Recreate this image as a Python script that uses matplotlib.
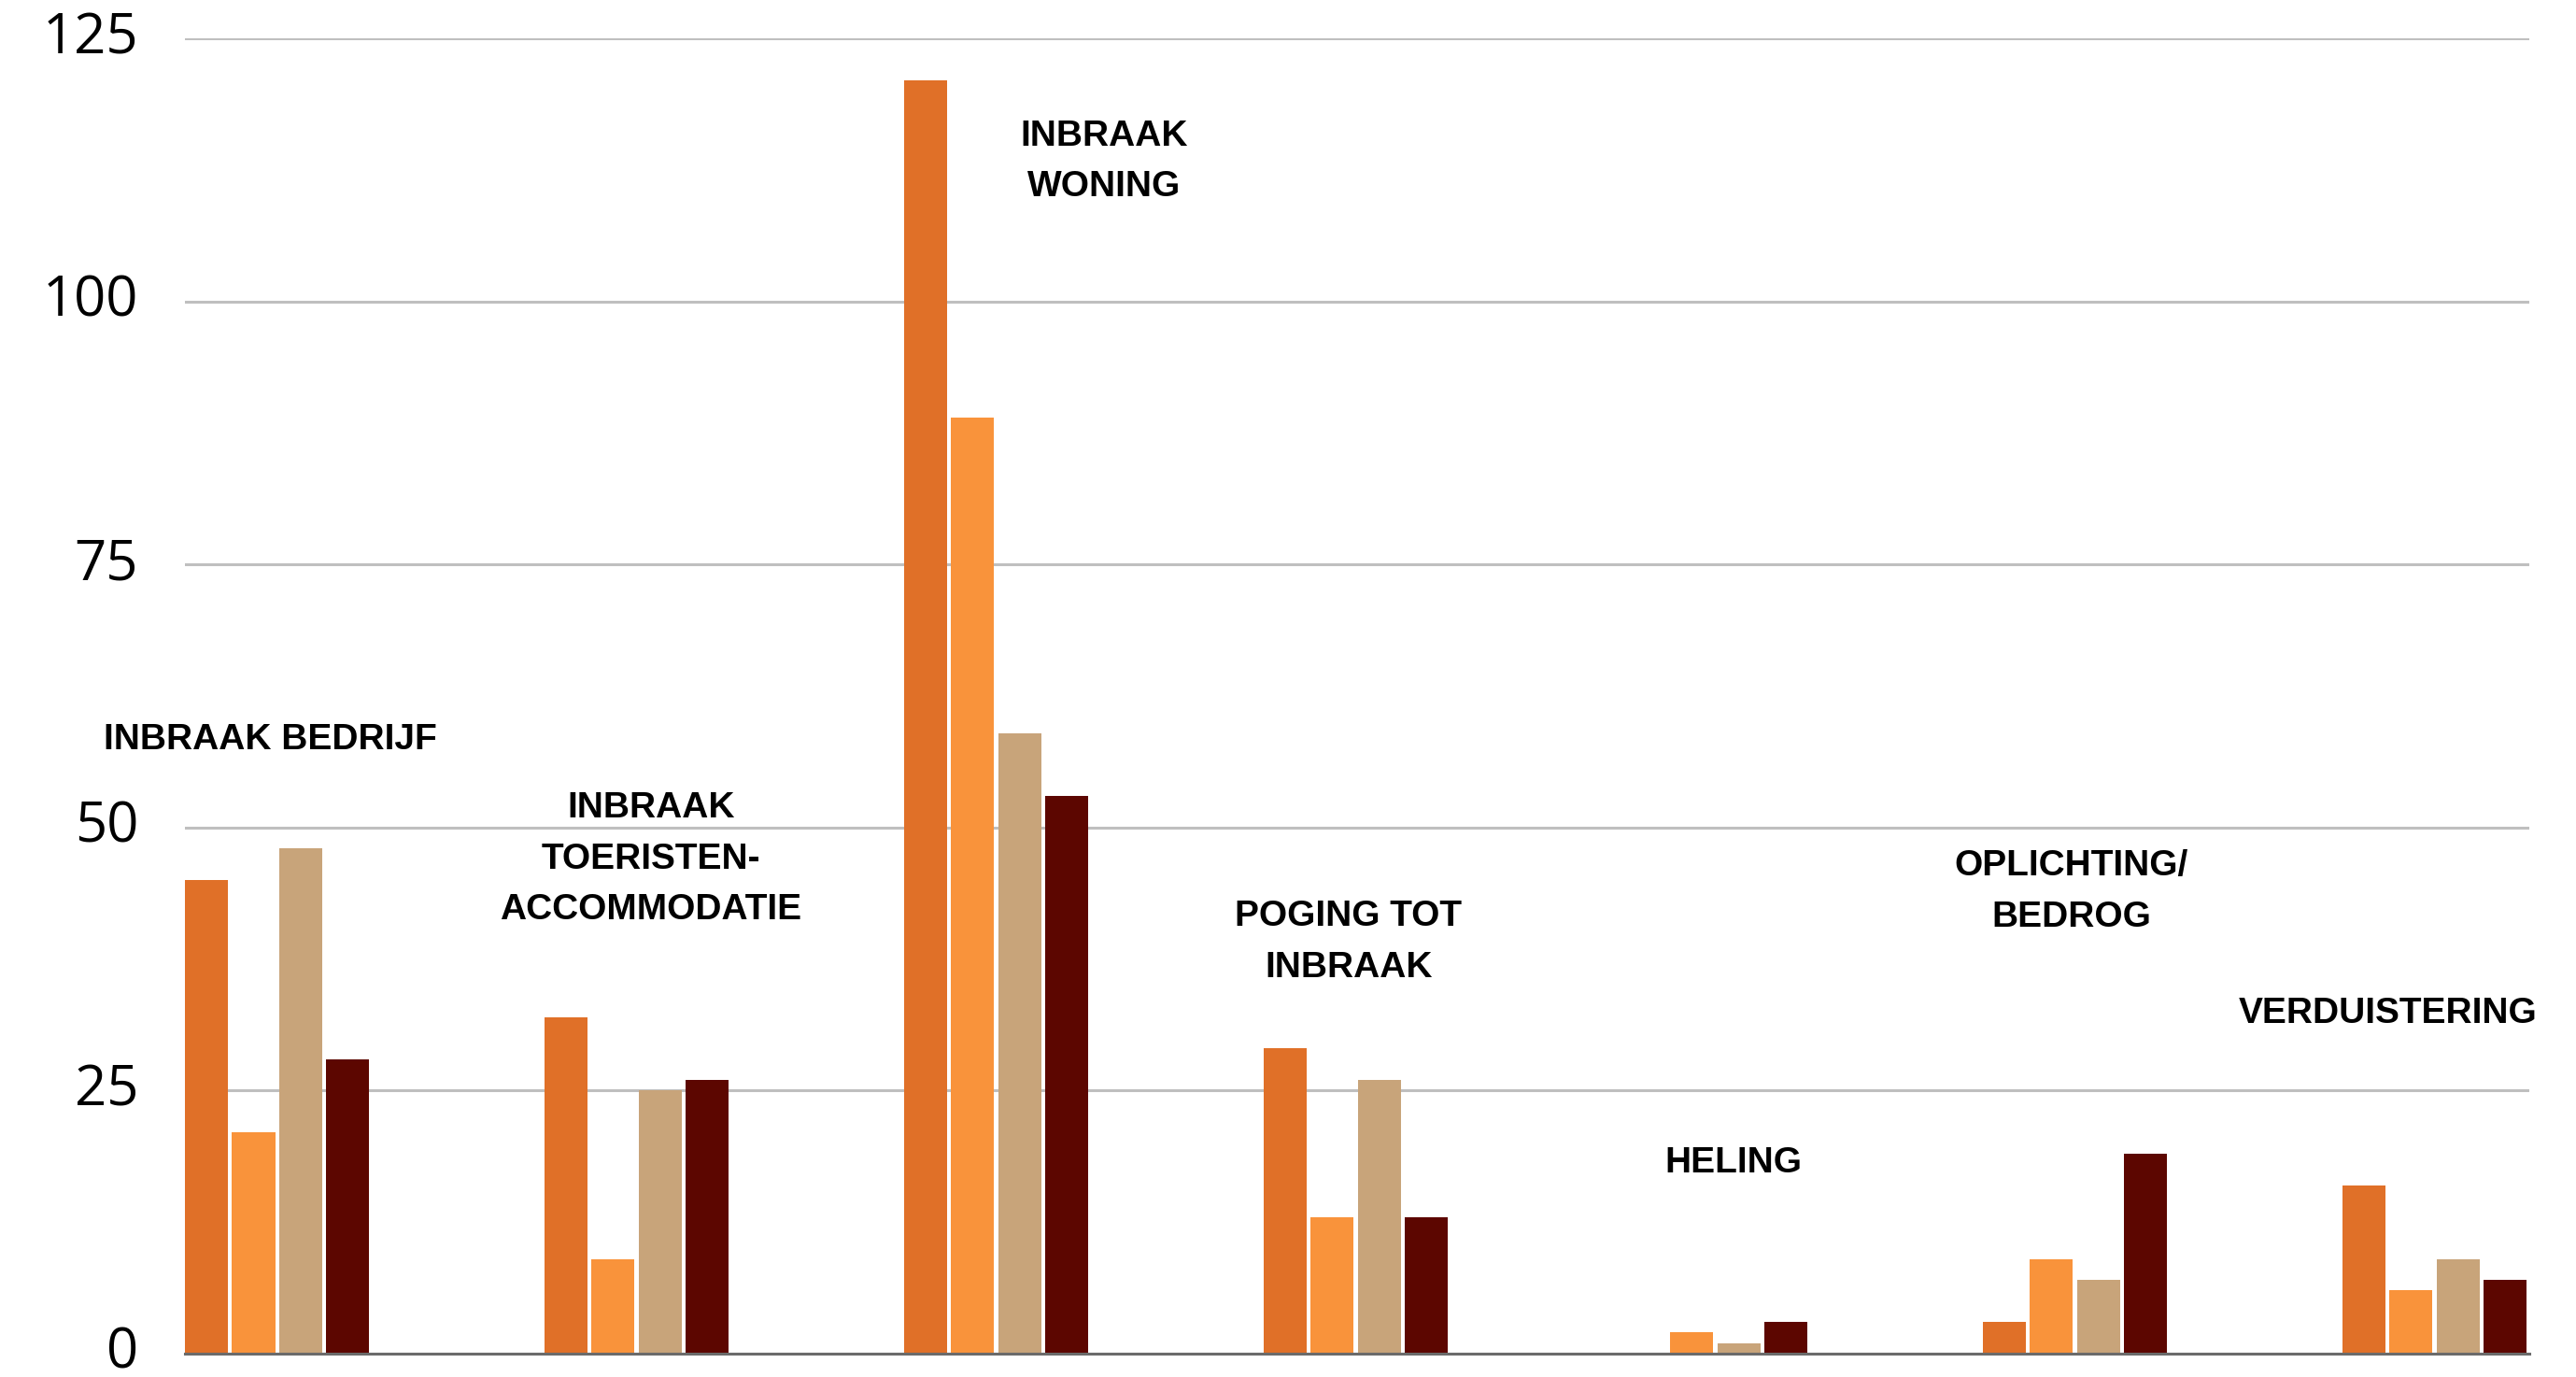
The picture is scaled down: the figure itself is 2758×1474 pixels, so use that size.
import numpy as np
import matplotlib
matplotlib.use("Agg")
import matplotlib.pyplot as plt

# data
categories = [
    "INBRAAK BEDRIJF",
    "INBRAAK\nTOERISTEN-\nACCOMMODATIE",
    "INBRAAK\nWONING",
    "POGING TOT\nINBRAAK",
    "HELING",
    "OPLICHTING/\nBEDROG",
    "VERDUISTERING",
]
series_1 = [45, 32, 121, 29, 0, 3, 16]
series_2 = [21, 9, 89, 13, 2, 9, 6]
series_3 = [48, 25, 59, 26, 1, 7, 9]
series_4 = [28, 26, 53, 13, 3, 19, 7]
y_ticks = [0, 25, 50, 75, 100, 125]

# label anchor positions (data coords)
label_x = [-0.02, 1.04, 2.30, 2.98, 4.05, 4.99, 5.87]
label_y = [58.3, 47.0, 113.3, 39.1, 18.1, 43.9, 32.3]

bar_colors = ["#E07028", "#F9933B", "#C8A47A", "#5C0600"]

fig = plt.figure(figsize=(27.58, 14.74), dpi=100)
ax = fig.add_axes([0.0718, 0.017, 0.9101, 0.955])

x = np.arange(len(categories))
width = 0.12
step = 0.1307
all_series = [series_1, series_2, series_3, series_4]
for i, (vals, col) in enumerate(zip(all_series, bar_colors)):
    offset = (i - 1.5) * step
    ax.bar(x + offset, vals, width=width, color=col, zorder=3)

ax.set_xlim(-0.256, 6.264)
ax.set_ylim(0, 125)
ax.set_yticks(y_ticks)
ax.set_yticklabels([str(t) for t in y_ticks], fontfamily="Open Sans", fontsize=43)
ax.set_xticks([])
ax.tick_params(axis="y", length=0, pad=36)
for lbl in ax.get_yticklabels():
    lbl.set_verticalalignment("center")

ax.yaxis.grid(True, color="#BFBFBF", linewidth=2.2, zorder=0)
ax.set_axisbelow(True)
for side in ["top", "right", "left"]:
    ax.spines[side].set_visible(False)
ax.spines["bottom"].set_color("#6B6B6B")
ax.spines["bottom"].set_linewidth(2.2)
ax.spines["bottom"].set_zorder(4)

for name, lx, ly in zip(categories, label_x, label_y):
    ax.text(lx, ly, name, ha="center", va="center", multialignment="center",
            fontfamily="Liberation Sans", fontweight="bold", fontsize=28,
            linespacing=1.66, zorder=5)

fig.savefig("out.png", dpi=100, facecolor="white")
